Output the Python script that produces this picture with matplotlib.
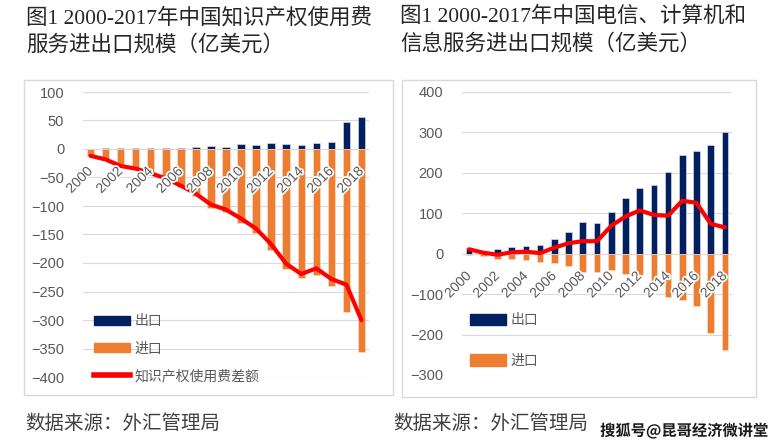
import matplotlib
matplotlib.use('Agg')
import numpy as np
import matplotlib.pyplot as plt
from matplotlib.patches import Rectangle, Patch
from matplotlib.lines import Line2D
from matplotlib.transforms import offset_copy
import matplotlib.patheffects as pe

plt.rcParams['font.family'] = ['Liberation Sans', 'Noto Sans CJK SC']

years = list(range(2000, 2019))

# left chart: IP usage fees (100m USD)
ip_export = [0.8, 1.1, 1.3, 1.1, 2.4, 1.6, 2.0, 3.4, 5.7, 4.3, 8.3, 7.4, 10.4, 8.9, 6.8, 10.8, 11.7, 47.7, 55.6]
ip_import = [-12.8, -19.4, -31.1, -35.5, -45.0, -53.2, -66.3, -81.9, -103.2, -110.7, -130.4, -147.1,
             -177.5, -210.3, -226.1, -220.2, -239.8, -285.7, -355.9]
ip_net = [-12, -18.3, -29.8, -34.4, -42.6, -51.6, -64.3, -78.5, -97.5, -106.4, -122.1, -139.7,
          -167.1, -201.4, -219.3, -209.4, -228.1, -238.0, -300.3]

# right chart: telecom, computer and information services
tc_export = [15, 7.5, 11, 16.5, 20, 22, 36, 54, 78, 76, 104, 139, 162, 170, 202, 245, 255, 268, 300]
tc_import = [-4, -6, -14, -13, -15, -21, -24, -31, -46, -44, -40, -50, -53, -76, -108, -115, -129, -196, -239]
tc_net = [11, 2.5, -2.5, 3.5, 5, 1.5, 15, 26, 31, 31, 69, 92, 107, 96, 94, 131, 126, 74, 65]

NAVY = '#002060'
ORANGE = '#ED7D31'
GRID = '#d9d9d9'
TXT = '#595959'

W, H = 783, 448
fig = plt.figure(figsize=(W / 100, H / 100), dpi=100)


def px_axes(x0, x1, ytop, ybot):
    return fig.add_axes([x0 / W, (H - ybot) / H, (x1 - x0) / W, (ybot - ytop) / H])


def box(x0, x1, ytop, ybot):
    fig.patches.append(Rectangle((x0 / W, (H - ybot) / H), (x1 - x0) / W, (ybot - ytop) / H,
                                 transform=fig.transFigure, fill=False, edgecolor=GRID, lw=1))


def draw(ax, exp, imp, net, ylo, yhi, step, width):
    x = np.arange(len(years))
    ax.bar(x, exp, width=width, color=NAVY, edgecolor='#e8e8f0', linewidth=0.4, zorder=2)
    ax.bar(x, imp, width=width, color=ORANGE, edgecolor='#fbe3d3', linewidth=0.4, zorder=2)
    ax.plot(x, net, color='#ff0000', lw=3, zorder=3, solid_capstyle='round')
    ax.set_xlim(-0.5, len(years) - 0.5)
    ax.set_ylim(ylo, yhi)
    ax.set_yticks(np.arange(ylo, yhi + 1, step))
    ax.yaxis.grid(True, color=GRID, lw=0.8, zorder=0)
    ax.set_axisbelow(True)
    for s in ax.spines.values():
        s.set_visible(False)
    ax.tick_params(axis='y', length=0, pad=13.5, labelsize=10.5, labelcolor=TXT)
    ax.set_xticks([])
    tr = offset_copy(ax.transData, fig=fig, x=-5, y=-15, units='dots')
    for i in range(0, len(years), 2):
        ax.text(i, 0, str(years[i]), transform=tr, rotation=45, rotation_mode='anchor',
                ha='right', va='top', fontsize=10, color=TXT, zorder=4,
                path_effects=[pe.withStroke(linewidth=2.5, foreground='white')])


# left
box(24, 393, 80, 395)
ax1 = px_axes(83, 369, 92, 377)
draw(ax1, ip_export, ip_import, ip_net, -400, 100, 50, 0.5)
h1 = [Patch(color=NAVY), Patch(color=ORANGE), Line2D([], [], color='#ff0000', lw=4)]
ax1.legend(h1, ['出口', '进口', '知识产权使用费差额'], loc='upper left', frameon=False,
           bbox_to_anchor=(0.02, 0.24), fontsize=10, handlelength=2.6, handleheight=0.6,
           labelspacing=0.97, handletextpad=0.3, labelcolor=TXT, borderaxespad=0)

# right
box(402, 756, 80, 397)
ax2 = px_axes(462, 732, 92, 375)
draw(ax2, tc_export, tc_import, tc_net, -300, 400, 100, 0.47)
h2 = [Patch(color=NAVY), Patch(color=ORANGE)]
ax2.legend(h2, ['出口', '进口'], loc='upper left', frameon=False,
           bbox_to_anchor=(0.01, 0.237), fontsize=10, handlelength=2.6, handleheight=0.9,
           labelspacing=1.9, handletextpad=0.3, labelcolor=TXT, borderaxespad=0)

# titles
tfont = ['Liberation Serif', 'Noto Sans CJK SC']
fig.text(26 / W, 1 - 7 / H, '图1 2000-2017年中国知识产权使用费\n服务进出口规模（亿美元）',
         family=tfont, fontsize=15.5, va='top', ha='left', color='#262626', linespacing=1.42)
fig.text(400 / W, 1 - 7 / H, '图1 2000-2017年中国电信、计算机和\n信息服务进出口规模（亿美元）',
         family=tfont, fontsize=15.5, va='top', ha='left', color='#262626', linespacing=1.42)

# sources
fig.text(25 / W, 1 - 423 / H, '数据来源：外汇管理局', family=['Noto Sans CJK SC'], style='italic',
         fontsize=14, va='center', ha='left', color='#404040')
fig.text(393 / W, 1 - 423 / H, '数据来源：外汇管理局', family=['Noto Sans CJK SC'], style='italic',
         fontsize=14, va='center', ha='left', color='#404040')
fig.text(768 / W, 1 - 431 / H, '搜狐号@昆哥经济微讲堂', family=['Noto Sans CJK SC'], fontweight='bold',
         fontsize=11, va='center', ha='right', color='#1a1a1a',
         path_effects=[pe.withStroke(linewidth=2.5, foreground='white')])

fig.savefig('out.png', dpi=100)
